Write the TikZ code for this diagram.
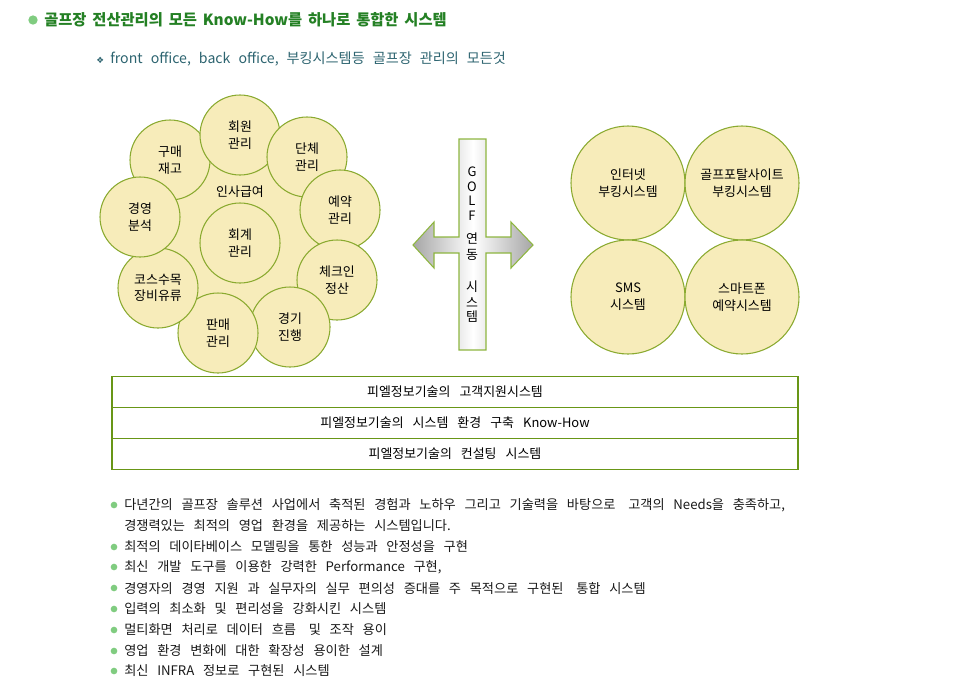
\documentclass[tikz,border=0pt]{standalone}
\usepackage{fontspec}
\setmainfont{Noto Sans CJK KR}
\newfontfamily\symfont{DejaVu Sans}

\definecolor{titlegreen}{RGB}{36,128,36}
\definecolor{dotgreen}{RGB}{128,204,128}
\definecolor{subteal}{RGB}{45,100,112}
\definecolor{circfill}{RGB}{247,236,186}
\definecolor{circline}{RGB}{138,170,48}
\definecolor{boxline}{RGB}{104,150,22}
\definecolor{crossline}{RGB}{142,182,64}

\newcommand{\widesp}[1]{\spaceskip=#1em plus 0.05em\relax}

\begin{document}
\begin{tikzpicture}[x=0.75pt, y=-0.75pt,
    circ/.style={circle, draw=circline, fill=circfill, thick, inner sep=0pt, align=center, font=\fontsize{9.7}{12.5}\selectfont},
    small/.style={circ, minimum size=60pt},
    big/.style={circ, minimum size=85.5pt},
    rowbox/.style={draw=boxline, thick, minimum width=514.5pt, minimum height=23pt, inner sep=0pt, font=\fontsize{9.7}{12}\selectfont\widesp{0.7}},
    item/.style={anchor=west, inner sep=0pt, text=black!90, font=\fontsize{9.9}{12}\selectfont\widesp{0.66}},
    bul/.style={circle, fill=dotgreen, inner sep=0pt, minimum size=5pt}]

    \useasboundingbox (0,0) rectangle (974,683);

    %titre
    \node[bul, minimum size=7pt] (titledot) at (33,20) {};
    \node[anchor=west, inner sep=0pt, text=titlegreen, font=\fontsize{11.5}{14}\selectfont\bfseries\widesp{0.38}] (title) at (44,20) {골프장 전산관리의 모든 Know-How를 하나로 통합한 시스템};
    \node[anchor=west, inner sep=0pt, text=subteal, font=\symfont\fontsize{6.5}{8}\selectfont] (subsym) at (96,60) {❖};
    \node[anchor=west, inner sep=0pt, text=subteal, font=\fontsize{10.6}{12}\selectfont\widesp{0.57}] (subtitle) at (110,59) {front office, back office, 부킹시스템등 골프장 관리의 모든것};

    %fond
    \fill[circfill] (240,238) circle (105);
    \node[font=\fontsize{9.7}{12}\selectfont] (insa) at (240,192) {인사급여};

    %cercle gauche
    \node[small] (gumae) at (170,160) {구매\\재고};
    \node[small] (hoewon) at (240,135) {회원\\관리};
    \node[small] (danche) at (307,157) {단체\\관리};
    \node[small] (yeyak) at (340,210) {예약\\관리};
    \node[small] (checkin) at (337,280) {체크인\\정산};
    \node[small] (gyeonggi) at (290,327) {경기\\진행};
    \node[small] (panmae) at (218,333) {판매\\관리};
    \node[small] (course) at (158,288) {코스수목\\장비유류};
    \node[small] (gyeongyeong) at (140,217) {경영\\분석};
    \node[small] (hoegye) at (240,243) {회계\\관리};

    %fleche
    \draw[crossline, thick, shading=axis, left color=black!35, right color=black!35, middle color=white]
        (413,245) -- (434,222) -- (434,237) -- (459,237) -- (459,139) -- (486,139) -- (486,237)
        -- (511,237) -- (511,222) -- (533,245) -- (511,268) -- (511,253) -- (486,253) -- (486,350)
        -- (459,350) -- (459,253) -- (434,253) -- (434,268) -- cycle;
    \foreach \ch/\yy [count=\i] in {G/172, O/187, L/201, F/216, 연/239, 동/255, 시/287, 스/303, 템/317}
        \node[font=\fontsize{9.7}{12}\selectfont, inner sep=0pt] (golf\i) at (472,\yy) {\ch};

    %cercle droite
    \node[big] (internet) at (628,183) {인터넷\\부킹시스템};
    \node[big] (portal) at (742,183) {골프포탈사이트\\부킹시스템};
    \node[big] (sms) at (628,297) {SMS\\시스템};
    \node[big] (smart) at (742,297) {스마트폰\\예약시스템};

    %tableau
    \node[rowbox] (row1) at (455,392) {피엘정보기술의 고객지원시스템};
    \node[rowbox] (row2) at (455,423) {피엘정보기술의 시스템 환경 구축 Know-How};
    \node[rowbox] (row3) at (455,454) {피엘정보기술의 컨설팅 시스템};

    %liste
    \foreach \yy/\txt [count=\i] in {
        505/{다년간의 골프장 솔루션 사업에서 축적된 경험과 노하우 그리고 기술력을 바탕으로\hspace{3pt} 고객의 Needs을 충족하고,},
        547/{최적의 데이타베이스 모델링을 통한 성능과 안정성을 구현},
        567/{최신 개발 도구를 이용한 강력한 Performance 구현,},
        588/{경영자의 경영 지원 과 실무자의 실무 편의성 증대를 주 목적으로 구현된\hspace{3pt} 통합 시스템},
        609/{입력의 최소화 및 편리성을 강화시킨 시스템},
        630/{멀티화면 처리로 데이터 흐름\hspace{3pt} 및 조작 용이},
        651/{영업 환경 변화에 대한 확장성 용이한 설계},
        671/{최신 INFRA 정보로 구현된 시스템}} {
        \node[bul] (dot\i) at (114,\yy) {};
        \node[item] (item\i) at (124,\yy) {\txt};
    }
    \node[item] (item1b) at (124,526) {경쟁력있는 최적의 영업 환경을 제공하는 시스템입니다.};

\end{tikzpicture}
\end{document}
